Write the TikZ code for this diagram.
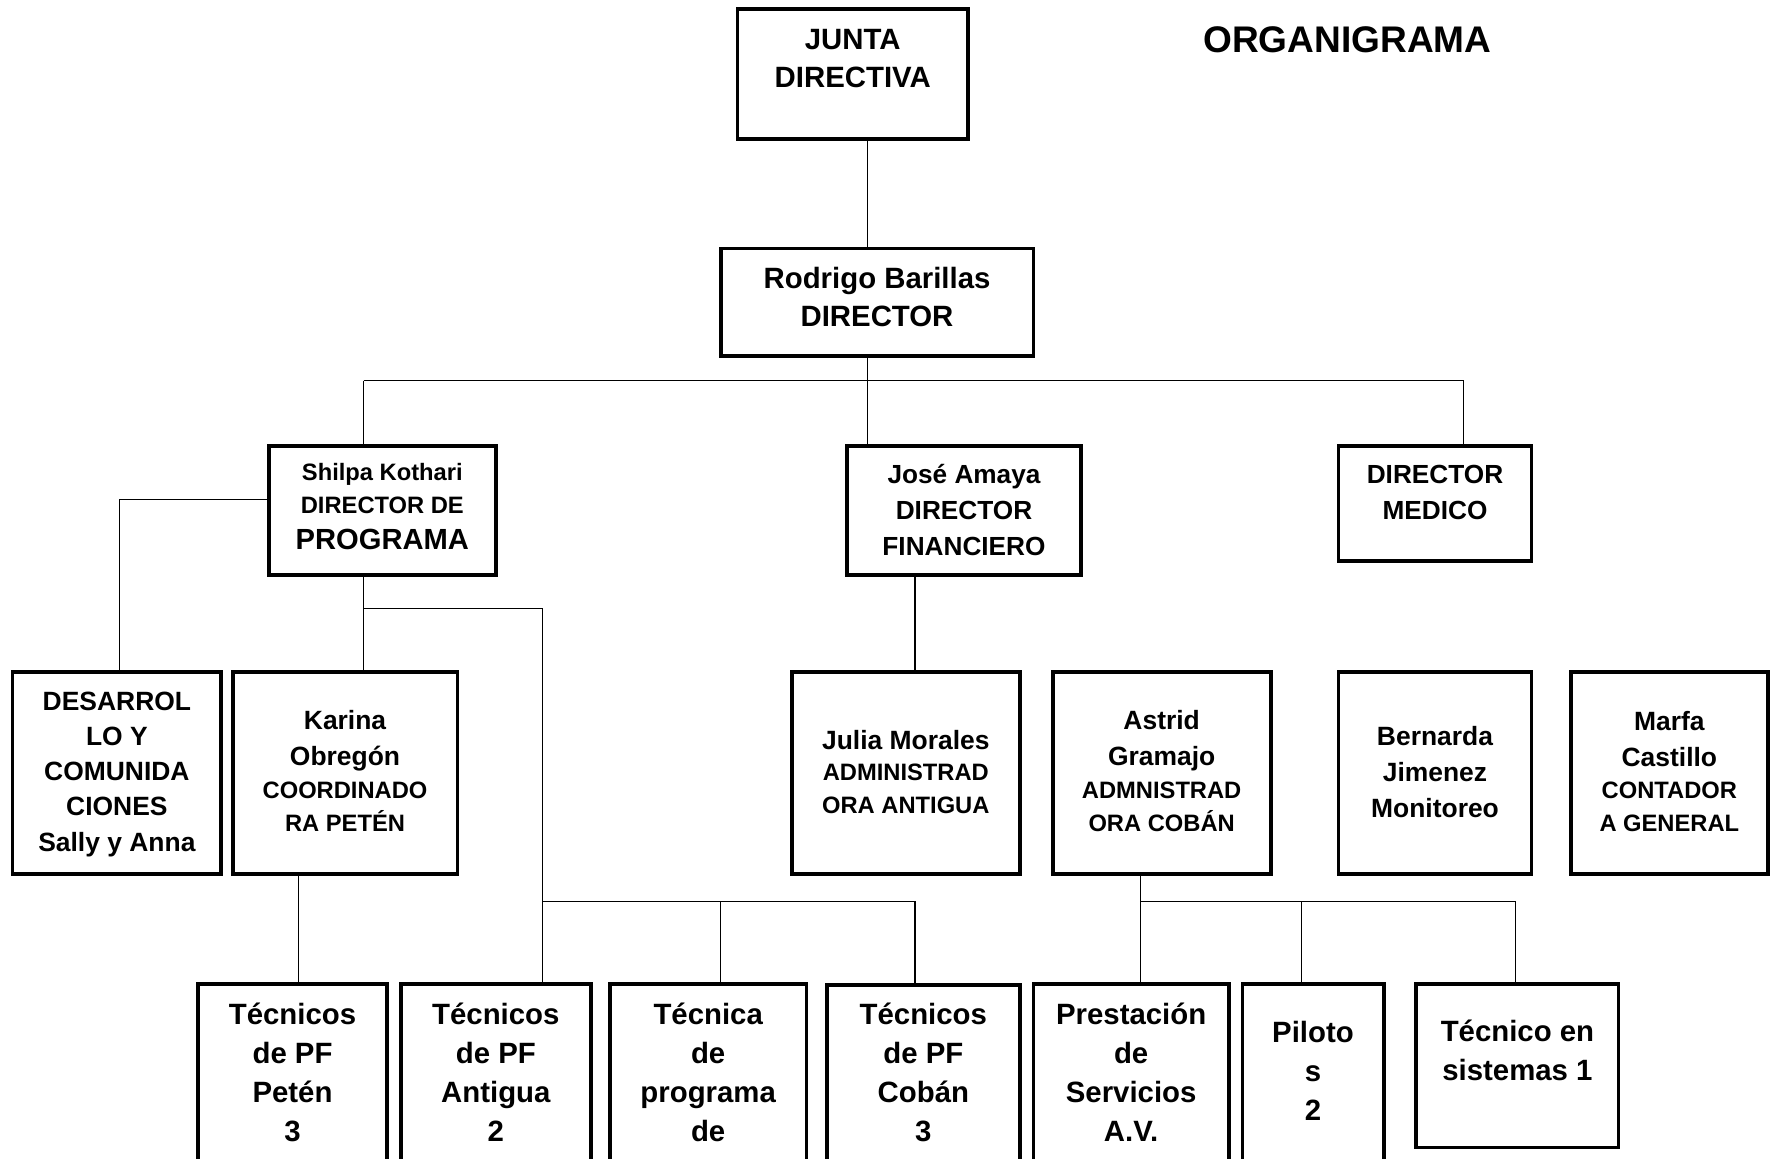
\documentclass[tikz,border=0pt]{standalone}
\usepackage{fontspec}
\setmainfont{Liberation Sans}
\newcommand\fsz[2]{\fontsize{#1}{#2}\selectfont\bfseries}
\begin{document}
\begin{tikzpicture}[x=0.5pt,y=-0.5pt,
  box/.style={draw, line width=1.7pt, inner sep=0pt},
  conn/.style={line width=0.55pt},
  txt/.style={align=center, inner sep=0pt},
  big/.style={txt, font=\fsz{13}{17.25}},
  mid/.style={txt, font=\fsz{11.7}{15.75}},
  sml/.style={txt, font=\fsz{10.5}{14.5}}]
\clip (0,0) rectangle (1568,1026);
\fill[white] (0,0) rectangle (1568,1026);

% ---- boxes ----
\node[box, minimum width=102pt, minimum height=57.5pt] (junta) at (755,65.5) {};
\node[box, minimum width=138.5pt, minimum height=47.5pt] (rodrigo) at (776.5,267.5) {};
\node[box, minimum width=100.5pt, minimum height=57pt] (shilpa) at (338.5,452) {};
\node[box, minimum width=103.5pt, minimum height=57pt] (jose) at (853.5,452) {};
\node[box, minimum width=85.5pt, minimum height=51pt] (medico) at (1270.5,446) {};

\node[box, minimum width=92.5pt, minimum height=89.5pt] (desarrollo) at (103.5,684.5) {};
\node[box, minimum width=99.5pt, minimum height=89.5pt] (karina) at (305.5,684.5) {};
\node[box, minimum width=101pt, minimum height=89.5pt] (julia) at (802,684.5) {};
\node[box, minimum width=96.5pt, minimum height=89.5pt] (astrid) at (1028.5,684.5) {};
\node[box, minimum width=85.5pt, minimum height=89.5pt] (bernarda) at (1270.5,684.5) {};
\node[box, minimum width=87pt, minimum height=89.5pt] (marfa) at (1478,684.5) {};

\node[box, minimum width=84pt, minimum height=89.5pt] (petenT) at (259,960.5) {};
\node[box, minimum width=84pt, minimum height=89.5pt] (antiguaT) at (439,960.5) {};
\node[box, minimum width=87pt, minimum height=89.5pt] (programaT) at (627,960.5) {};
\node[box, minimum width=85.5pt, minimum height=89.5pt] (cobanT) at (817.5,961.5) {};
\node[box, minimum width=86.5pt, minimum height=89.5pt] (prestacion) at (1001.5,960.5) {};
\node[box, minimum width=62.5pt, minimum height=89.5pt] (pilotos) at (1162.5,960.5) {};
\node[box, minimum width=89.5pt, minimum height=72.5pt] (sistemas) at (1343.5,943.5) {};

% ---- junction points ----
\coordinate (b1) at (768,337);
\coordinate (bL) at (322,337);
\coordinate (bR) at (1296,337);
\coordinate (d1) at (106,442);
\coordinate (p1) at (322,539);
\coordinate (p2) at (480,539);
\coordinate (q1) at (480,798);
\coordinate (q2) at (638,798);
\coordinate (q3) at (810,798);
\coordinate (r1) at (264,798);
\coordinate (s1) at (1010,798);
\coordinate (s2) at (1152,798);
\coordinate (s3) at (1342,798);

% ---- connectors ----
\draw[conn] (junta.south -| b1) -- (rodrigo.north -| b1);
\draw[conn] (rodrigo.south -| b1) -- (b1);
\draw[conn] (bL) -- (bR);
\draw[conn] (bL) -- (shilpa.north -| bL);
\draw[conn] (b1) -- (jose.north -| b1);
\draw[conn] (bR) -- (medico.north -| bR);
\draw[conn] (shilpa.west |- d1) -- (d1) -- (desarrollo.north -| d1);
\draw[conn] (shilpa.south -| p1) -- (karina.north -| p1);
\draw[conn] (p1) -- (p2) -- (antiguaT.north -| p2);
\draw[conn] (q1) -- (q3);
\draw[conn] (q2) -- (programaT.north -| q2);
\draw[conn] (q3) -- (cobanT.north -| q3);
\draw[conn] (jose.south -| q3) -- (julia.north -| q3);
\draw[conn] (karina.south -| r1) -- (petenT.north -| r1);
\draw[conn] (astrid.south -| s1) -- (s1) -- (prestacion.north -| s1);
\draw[conn] (s1) -- (s3);
\draw[conn] (s2) -- (pilotos.north -| s2);
\draw[conn] (s3) -- (sistemas.north -| s3);

% ---- texts ----
\node[txt, font=\fsz{16.4}{19}] (title) at (1193,35) {ORGANIGRAMA};
\node[big, font=\fsz{13}{17}] (tJunta) at (755,52) {JUNTA\\DIRECTIVA};
\node[big, font=\fsz{13}{17}] (tRod) at (776.5,263) {Rodrigo Barillas\\DIRECTOR};
\node[sml] (tShilpa1) at (338.5,432.5) {Shilpa Kothari\\DIRECTOR DE};
\node[txt, font=\fsz{12.9}{15}] (tShilpa2) at (338.5,478) {PROGRAMA};
\node[mid, font=\fsz{11.6}{15.75}] (tJose) at (853.5,451.5) {José Amaya\\DIRECTOR\\FINANCIERO};
\node[mid, font=\fsz{11.6}{16}] (tMed) at (1270.5,436) {DIRECTOR\\MEDICO};

\node[mid, font=\fsz{11.7}{15.6}] (tDes) at (103.5,685.5) {DESARROL\\LO Y\\COMUNIDA\\CIONES\\Sally y Anna};
\node[mid, font=\fsz{11.7}{16}] (tKar1) at (305.5,656) {Karina\\Obregón};
\node[sml] (tKar2) at (305.5,714.5) {COORDINADO\\RA PETÉN};
\node[mid] (tJul1) at (802,655) {Julia Morales};
\node[sml] (tJul2) at (802,698.5) {ADMINISTRAD\\ORA ANTIGUA};
\node[mid, font=\fsz{11.7}{16}] (tAst1) at (1028.5,656) {Astrid\\Gramajo};
\node[sml] (tAst2) at (1028.5,714.5) {ADMNISTRAD\\ORA COBÁN};
\node[mid] (tBer) at (1270.5,683.5) {Bernarda\\Jimenez\\Monitoreo};
\node[mid, font=\fsz{11.7}{16}] (tMar1) at (1478,654) {Marfa\\Castillo};
\node[sml] (tMar2) at (1478,714.5) {CONTADOR\\A GENERAL};

\node[big] (tPet) at (259,949.5) {Técnicos\\de PF\\Petén\\3};
\node[big] (tAnt) at (439,949.5) {Técnicos\\de PF\\Antigua\\2};
\node[big] (tProg) at (627,949.5) {Técnica\\de\\programa\\de};
\node[big] (tCob) at (817.5,949.5) {Técnicos\\de PF\\Cobán\\3};
\node[big] (tPre) at (1001.5,949.5) {Prestación\\de\\Servicios\\A.V.};
\node[big] (tPil) at (1162.5,948) {Piloto\\s\\2};
\node[big] (tSis) at (1343.5,930) {Técnico en\\sistemas 1};
\end{tikzpicture}
\end{document}
